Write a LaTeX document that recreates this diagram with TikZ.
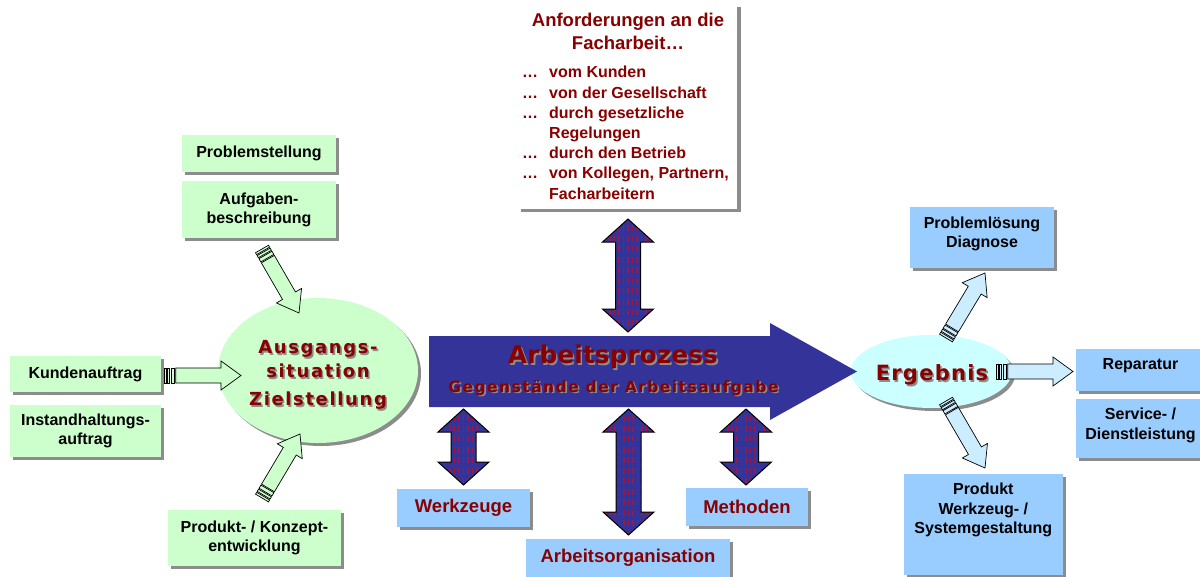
\documentclass[tikz,border=0pt]{standalone}
\usepackage{fontspec}
\setmainfont{Liberation Sans}
\newfontfamily\ausfont[LetterSpace=9]{DejaVu Sans}
\newfontfamily\arbfont[LetterSpace=1]{DejaVu Sans}
\newfontfamily\gegfont[LetterSpace=9.5]{DejaVu Sans}
\newfontfamily\ergfont[LetterSpace=6]{DejaVu Sans}
\usetikzlibrary{shapes.geometric,shadows,calc}

\definecolor{boxgreen}{HTML}{CCFFCC}
\definecolor{boxblue}{HTML}{99CCFF}
\definecolor{ergcyan}{HTML}{CCFFFF}
\definecolor{arrcyan}{HTML}{CCECFF}
\definecolor{procblue}{HTML}{333399}
\definecolor{darkred}{HTML}{880000}
\definecolor{shadowgray}{HTML}{8C8C8C}
\definecolor{stripered}{HTML}{941A4C}

\tikzset{
  plainshadow/.style={drop shadow={shadow xshift=3pt,shadow yshift=-3pt,fill=shadowgray,opacity=1}},
  plainbox/.style={rectangle,inner sep=0pt,plainshadow,align=center,
    font=\fontsize{16}{19}\selectfont\bfseries},
  gbox/.style={plainbox,fill=boxgreen},
  bbox/.style={plainbox,fill=boxblue},
  rbox/.style={bbox,text=darkred,font=\fontsize{18.5}{22}\selectfont\bfseries},
  txt/.style={inner sep=0pt,align=center,font=\fontsize{16}{19.5}\selectfont\bfseries},
  greenarrow/.style={draw=black,line width=0.7pt,fill=boxgreen,line join=miter},
  cyanarrow/.style={draw=black,line width=0.7pt,fill=arrcyan,line join=miter},
  stripe/.style={draw=stripered,line width=1.8pt,dash pattern=on 6pt off 4.5pt},
  dblout/.style={draw=black,line width=1pt,line join=miter}
}

% shadowed title text
\newcommand\shtext[4]{%
  \node[inner sep=0pt,align=center,font={#3},text=shadowgray] at ([shift={(1.6pt,-1.6pt)}]#2) {#4};
  \node[inner sep=0pt,align=center,font={#3},text=darkred] (#1) at (#2) {#4};}

% block arrow from coordinate #2 to coordinate #3, style #1
\newcommand\blockarrow[3]{%
  \pgfpointanchor{#2}{center}\pgfgetlastxy{\bax}{\bay}%
  \pgfpointanchor{#3}{center}\pgfgetlastxy{\bbx}{\bby}%
  \pgfmathsetmacro\baang{atan2((\bby)-(\bay),(\bbx)-(\bax))}%
  \pgfmathsetmacro\balen{veclen((\bbx)-(\bax),(\bby)-(\bay))}%
  \begin{scope}[shift={(#2)},rotate=\baang]
    \draw[#1] (0,-7.5) rectangle (2.2,7.5);
    \draw[#1] (3.3,-7.5) rectangle (5.8,7.5);
    \draw[#1] (6.9,-7.5) rectangle (10.6,7.5);
    \draw[#1] (11.7,-7.5) -- ({\balen-20},-7.5) -- ({\balen-20},-14.5) -- (\balen,0)
      -- ({\balen-20},14.5) -- ({\balen-20},7.5) -- (11.7,7.5) -- cycle;
  \end{scope}}

% vertical double arrow between two coordinates
\newcommand\dblarrow[2]{%
  \pgfpointanchor{#1}{center}\pgfgetlastxy{\dax}{\day}%
  \pgfpointanchor{#2}{center}\pgfgetlastxy{\dbx}{\dby}%
  \def\dapath{(\dax,\day) -- ({\dax+25.5pt},{\day-23pt}) -- ({\dax+12.5pt},{\day-23pt})
    -- ({\dax+12.5pt},{\dby+23pt}) -- ({\dax+25.5pt},{\dby+23pt}) -- (\dax,\dby)
    -- ({\dax-25.5pt},{\dby+23pt}) -- ({\dax-12.5pt},{\dby+23pt})
    -- ({\dax-12.5pt},{\day-23pt}) -- ({\dax-25.5pt},{\day-23pt}) -- cycle}%
  \begin{scope}
    \clip \dapath;
    \fill[procblue] \dapath;
    \foreach \k in {-22.5,-18,...,22.5}
      \draw[stripe] ({\dax+\k*1pt},{\day-6pt}) -- ({\dax+\k*1pt},\dby);
  \end{scope}
  \draw[dblout] \dapath;}

\begin{document}
\begin{tikzpicture}[x=1pt,y=-1pt]
\useasboundingbox (0,0) rectangle (1200,576);

% ---------- Anforderungen ----------
\node[rectangle,fill=white,inner sep=0pt,
  drop shadow={shadow xshift=4pt,shadow yshift=-3pt,fill=shadowgray,opacity=1},
  minimum width=220pt,minimum height=205pt] (anf) at (627,106.5) {};
\node[txt,text=darkred,font=\fontsize{18.5}{23}\selectfont\bfseries] (anftitle) at (628,31.5)
  {Anforderungen an die\\Facharbeit…};
\node[inner sep=0pt,anchor=north west,text=darkred,font=\fontsize{16}{20.2}\selectfont\bfseries]
  (anflist) at (522,63.6) {%
  \begin{tabular}{@{}l@{}l@{}}
  \makebox[27pt][l]{…} & vom Kunden\\
  … & von der Gesellschaft\\
  … & durch gesetzliche\\
    & Regelungen\\
  … & durch den Betrieb\\
  … & von Kollegen, Partnern,\\
    & Facharbeitern
  \end{tabular}};

% ---------- green boxes ----------
\node[gbox,minimum width=154pt,minimum height=37pt] (prob) at (259,153.5) {Problemstellung};
\node[gbox,minimum width=154pt,minimum height=57pt] (aufg) at (259,209.5) {Aufgaben-\\beschreibung};
\node[gbox,minimum width=151pt,minimum height=36pt] (kund) at (85.5,374) {Kundenauftrag};
\node[gbox,minimum width=151pt,minimum height=52pt] (inst) at (85.5,431) {Instandhaltungs-\\auftrag};
\node[gbox,minimum width=173pt,minimum height=56pt] (prod) at (254.5,538) {Produkt- / Konzept-\\entwicklung};

% ---------- Ausgangssituation ----------
\node[ellipse,fill=boxgreen,plainshadow,inner sep=0pt,minimum width=200pt,minimum height=145pt]
  (ausg) at (318,370.5) {};
\shtext{ausgtxt}{318,375}{\ausfont\bfseries\fontsize{18}{24}\selectfont}{Ausgangs-\\situation\\[4pt]Zielstellung}

% ---------- right blue boxes ----------
\node[bbox,minimum width=144pt,minimum height=61pt] (pl) at (982,237.5) {};
\node[txt] (pltxt) at (982,234) {Problemlösung\\Diagnose};
\node[bbox,minimum width=128pt,minimum height=42pt] (rep) at (1140,370) {};
\node[txt] (reptxt) at (1140.5,365.6) {Reparatur};
\node[bbox,minimum width=128pt,minimum height=59pt] (serv) at (1140,428.5) {};
\node[txt] (servtxt) at (1140.5,425.6) {Service- /\\Dienstleistung};
\node[bbox,minimum width=159pt,minimum height=101pt] (pw) at (983.5,524.5) {};
\node[txt] (pwtxt) at (983.3,510) {Produkt\\Werkzeug- /\\Systemgestaltung};

% ---------- Ergebnis ----------
\node[ellipse,fill=ergcyan,plainshadow,inner sep=0pt,minimum width=161pt,minimum height=73pt]
  (erg) at (931.5,371.5) {};
\shtext{ergtxt}{932,375}{\ergfont\bfseries\fontsize{21}{25}\selectfont}{Ergebnis}

% ---------- big process arrow ----------
\fill[procblue] (429,336) -- (770,336) -- (770,323) -- (857,371.5) -- (770,420)
  -- (770,407) -- (429,407) -- cycle;
\shtext{arbtitle}{613,357}{\arbfont\bfseries\fontsize{24.5}{30}\selectfont}{Arbeitsprozess}
\shtext{arbsub}{613.5,388}{\gegfont\bfseries\fontsize{15.5}{20}\selectfont}{Gegenstände der Arbeitsaufgabe}

% ---------- bottom boxes ----------
\node[rbox,minimum width=133pt,minimum height=38pt] (wz) at (463.5,508) {Werkzeuge};
\node[rbox,minimum width=122pt,minimum height=38pt] (me) at (747,507) {Methoden};
\node[rbox,minimum width=204pt,minimum height=38pt] (ao) at (628,558) {Arbeitsorganisation};

% ---------- block arrows ----------
\coordinate (a1s) at (262,249);   \coordinate (a1e) at (299,313);
\coordinate (a2s) at (164,375.5); \coordinate (a2e) at (241,375.5);
\coordinate (a3s) at (262,498);   \coordinate (a3e) at (300,434);
\coordinate (b1s) at (946,338);   \coordinate (b1e) at (985,273);
\coordinate (b2s) at (996,371.5); \coordinate (b2e) at (1073,371.5);
\coordinate (b3s) at (946,401);   \coordinate (b3e) at (985,468);
\blockarrow{greenarrow}{a1s}{a1e}
\blockarrow{greenarrow}{a2s}{a2e}
\blockarrow{greenarrow}{a3s}{a3e}
\blockarrow{cyanarrow}{b1s}{b1e}
\blockarrow{cyanarrow}{b2s}{b2e}
\blockarrow{cyanarrow}{b3s}{b3e}

% ---------- double arrows ----------
\coordinate (d1t) at (628,219);   \coordinate (d1b) at (628,332);
\coordinate (d2t) at (463.5,409); \coordinate (d2b) at (463.5,485);
\coordinate (d3t) at (628.5,409); \coordinate (d3b) at (628.5,535);
\coordinate (d4t) at (746,409);   \coordinate (d4b) at (746,485);
\dblarrow{d1t}{d1b}
\dblarrow{d2t}{d2b}
\dblarrow{d3t}{d3b}
\dblarrow{d4t}{d4b}
\end{tikzpicture}
\end{document}
